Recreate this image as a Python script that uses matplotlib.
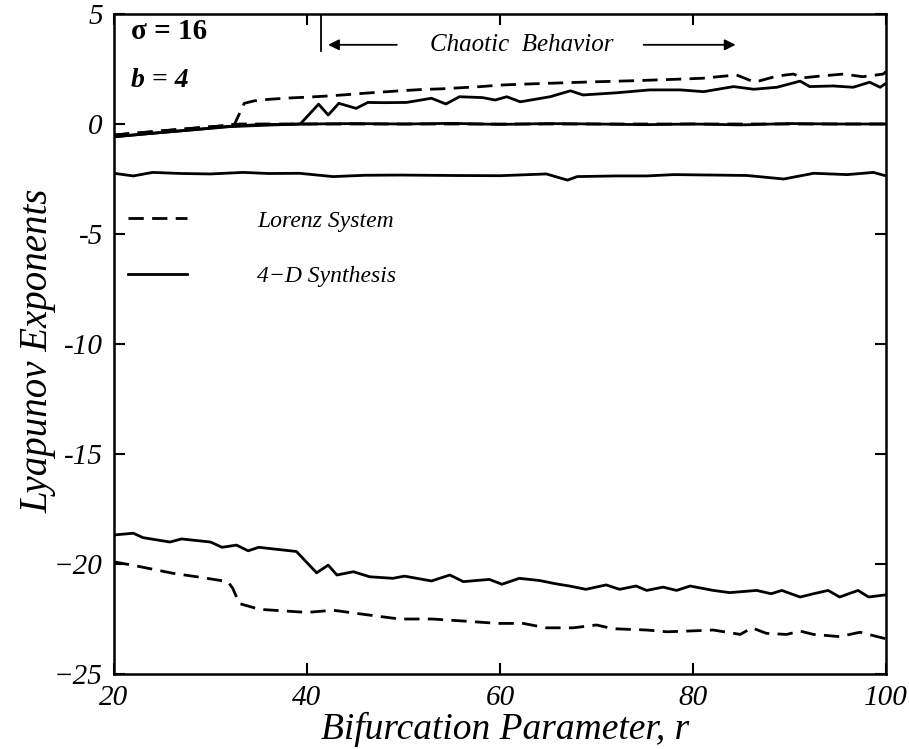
import matplotlib
matplotlib.use("Agg")
import matplotlib.pyplot as plt

# Lorenz system exponents (dashed)
lor1_r = [20, 22, 24, 26, 28, 30, 32, 32.5, 33.5, 34.5, 36, 38, 40, 42, 44, 46, 48, 50, 52, 54, 56, 58, 60,
          63, 67, 70, 74, 78, 81, 84.5, 86.4, 88.7, 90.4, 91.4, 93.2, 95.6, 97.6, 99.7, 100]
lor1_v = [-0.5, -0.42, -0.35, -0.27, -0.2, -0.13, -0.06, 0.0, 0.94, 1.05, 1.12, 1.18, 1.22, 1.27, 1.33, 1.4,
          1.46, 1.52, 1.57, 1.6, 1.65, 1.7, 1.77, 1.82, 1.88, 1.92, 1.97, 2.03, 2.08, 2.23, 1.9, 2.18, 2.27,
          2.1, 2.18, 2.27, 2.15, 2.27, 2.38]

lor2_r = [20, 24, 28, 32, 33, 40, 50, 60, 70, 80, 90, 100]
lor2_v = [-0.5, -0.35, -0.2, -0.05, 0.0, 0.0, 0.0, 0.0, 0.0, 0.0, 0.0, 0.0]

lor3_r = [20, 22.7, 26.1, 28.9, 31.8, 32.3, 33, 35.1, 40, 42.7, 46.1, 49.6, 53, 56.5, 59.8, 62.4, 64.8, 67.6,
          70, 71.7, 75.2, 77.3, 79.3, 82.1, 84.9, 86.1, 87.6, 89.7, 91.1, 92.5, 95.2, 97.3, 100]
lor3_v = [-19.9, -20.12, -20.42, -20.6, -20.8, -21.1, -21.8, -22.06, -22.2, -22.1, -22.3, -22.5, -22.5, -22.6,
          -22.7, -22.7, -22.9, -22.9, -22.77, -22.94, -23.0, -23.08, -23.05, -23.0, -23.2, -22.9, -23.15,
          -23.2, -23.05, -23.2, -23.3, -23.1, -23.4]

# 4-D synthesis exponents (solid)
syn1_r = [20, 24, 28, 32, 36, 39.3, 41.2, 42.2, 43.3, 45.1, 46.3, 48, 50.3, 52.9, 54.4, 55.8, 58.2, 59.5,
          60.7, 62.1, 65.2, 67.3, 68.6, 72.1, 75.5, 78.7, 81.1, 84.2, 86.3, 88.7, 91.1, 92.1, 94.5, 96.6,
          98.3, 99.4, 100]
syn1_v = [-0.58, -0.42, -0.27, -0.12, -0.05, 0.0, 0.9, 0.41, 0.94, 0.71, 0.98, 0.97, 0.98, 1.17, 0.91, 1.24,
          1.2, 1.09, 1.24, 1.01, 1.24, 1.51, 1.32, 1.42, 1.55, 1.55, 1.47, 1.7, 1.58, 1.67, 1.95, 1.7, 1.73,
          1.67, 1.9, 1.67, 1.85]

syn2_r = [20, 24, 28, 32, 35, 40, 45, 50, 55, 60, 65, 70, 75, 80, 85, 90, 95, 100]
syn2_v = [-0.58, -0.42, -0.27, -0.1, -0.03, 0.0, 0.02, 0.0, 0.03, -0.02, 0.02, 0.0, -0.03, 0.0, -0.04,
          0.02, 0.0, 0.0]

syn3_r = [20, 22, 24, 27, 30, 33.4, 36, 39.2, 42.7, 46, 49.6, 55, 60, 64.8, 67, 68, 72, 75.2, 78, 82.1,
          85.6, 89.4, 92.5, 96, 98.7, 100]
syn3_v = [-2.24, -2.36, -2.2, -2.25, -2.27, -2.2, -2.25, -2.24, -2.39, -2.33, -2.32, -2.34, -2.35, -2.27,
          -2.55, -2.39, -2.36, -2.36, -2.3, -2.32, -2.34, -2.5, -2.24, -2.3, -2.2, -2.36]

syn4_r = [20, 22, 23, 25.8, 27, 30, 31.2, 32.7, 33.9, 35, 38.9, 41, 42.2, 43.1, 44.8, 46.5, 48.9, 50.1,
          52.9, 54.8, 56.2, 58.9, 60.2, 62, 64.1, 65.8, 67.2, 68.9, 71, 72.4, 74.1, 75.2, 76.9, 78.3, 79.7,
          82.1, 83.8, 86.6, 88.1, 89.2, 91.1, 92.5, 94, 95.2, 97.1, 98.2, 100]
syn4_v = [-18.68, -18.6, -18.8, -19.0, -18.86, -19.0, -19.24, -19.14, -19.4, -19.24, -19.43, -20.4, -20.05,
          -20.5, -20.35, -20.58, -20.65, -20.55, -20.77, -20.5, -20.8, -20.7, -20.92, -20.65, -20.75, -20.9,
          -21.0, -21.15, -20.95, -21.15, -21.0, -21.2, -21.05, -21.2, -21.0, -21.2, -21.3, -21.2, -21.35,
          -21.2, -21.5, -21.35, -21.2, -21.5, -21.2, -21.5, -21.4]

xticks = [20, 40, 60, 80, 100]
yticks = [5, 0, -5, -10, -15, -20, -25]
ytick_labels = ["5", "0", "-5", "-10", "-15", "\u221220", "\u221225"]

plt.rcParams['font.family'] = ['Liberation Serif', 'DejaVu Serif']

fig = plt.figure(figsize=(9.09, 7.49), dpi=100)
ax = fig.add_axes([0.1254, 0.1001, 0.8493, 0.8812])

lw = 2.0
dash = (0, (5.5, 3.0))
ax.plot(lor1_r, lor1_v, color='black', lw=lw, linestyle=dash, label='Lorenz System')
ax.plot(lor2_r, lor2_v, color='black', lw=lw, linestyle=dash)
ax.plot(lor3_r, lor3_v, color='black', lw=lw, linestyle=dash)
ax.plot(syn1_r, syn1_v, color='black', lw=lw, label='4\u2212D Synthesis')
ax.plot(syn2_r, syn2_v, color='black', lw=lw)
ax.plot(syn3_r, syn3_v, color='black', lw=lw)
ax.plot(syn4_r, syn4_v, color='black', lw=lw)

ax.set_xlim(20, 100)
ax.set_ylim(-25, 5)
ax.set_xticks(xticks)
ax.set_xticklabels([str(t) for t in xticks], fontstyle='italic', fontsize=21)
ax.set_yticks(yticks)
ax.set_yticklabels(ytick_labels, fontstyle='italic', fontsize=21)
ax.tick_params(direction='in', length=8, width=1.5, top=True, right=True, pad=8)
for s in ax.spines.values():
    s.set_linewidth(1.8)

ax.set_xlabel('Bifurcation Parameter, r', fontstyle='italic', fontsize=27)
ax.xaxis.set_label_coords(0.506, -0.057)
ax.set_ylabel('Lyapunov Exponents', fontstyle='italic', fontsize=28)
ax.yaxis.set_label_coords(-0.074, 0.49)

ax.text(21.8, 4.2, '\u03c3 = 16', fontsize=21, fontweight='bold', va='center')
ax.text(21.8, 2.0, 'b = 4', fontsize=20, fontstyle='italic', fontweight='bold', va='center')

# chaotic region marker
ax.plot([41.45, 41.45], [5, 3.3], color='black', lw=1.3)
ax.annotate('', xy=(41.9, 3.6), xytext=(49.6, 3.6),
            arrowprops=dict(arrowstyle='-|>', color='black', lw=1.3, mutation_scale=16))
ax.annotate('', xy=(84.7, 3.6), xytext=(74.6, 3.6),
            arrowprops=dict(arrowstyle='-|>', color='black', lw=1.3, mutation_scale=16))
ax.text(62.3, 3.6, 'Chaotic  Behavior', fontsize=18, fontstyle='italic', ha='center', va='center')

ax.legend(loc='upper left', bbox_to_anchor=(-0.01, 0.735), frameon=False,
          handlelength=2.5, handletextpad=3.0, labelspacing=1.45, prop={'style': 'italic', 'size': 17})

fig.savefig('out.png', dpi=100)
